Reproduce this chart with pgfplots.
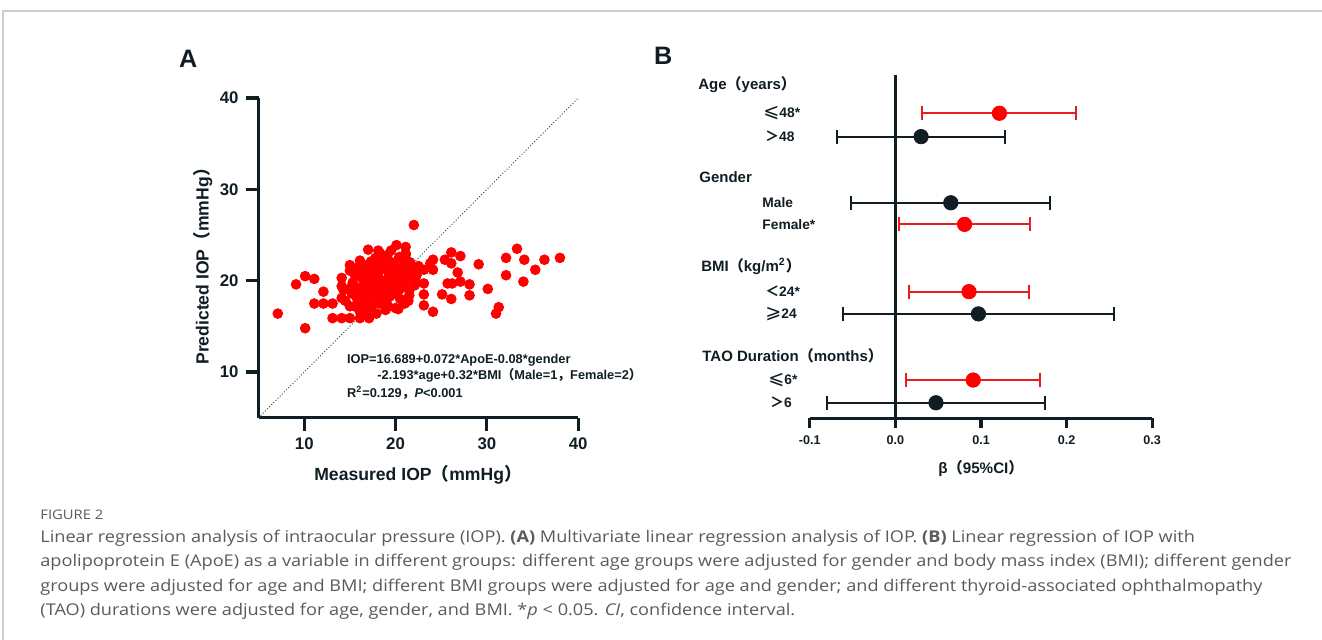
\documentclass[border=0pt]{standalone}
\usepackage{pgfplots}
\pgfplotsset{compat=1.18}
\usepackage{fontspec}
\setmainfont{Liberation Sans}
\newfontfamily\cjk{Noto Sans CJK SC}
\newfontfamily\dv{DejaVu Sans}
\newfontfamily\capfont[FakeStretch=1.12]{Open Sans}
\definecolor{dotred}{RGB}{255,0,0}
\definecolor{barred}{RGB}{232,30,30}
\definecolor{ink}{RGB}{16,30,36}
\definecolor{capgray}{RGB}{90,90,90}
\definecolor{framegray}{RGB}{205,205,205}
\newcommand{\fw}[1]{{\cjk #1}}
\newcommand{\sle}{{\dv\mdseries\fontsize{9.6}{8}\selectfont ⩽}}
\newcommand{\sge}{{\dv\mdseries\fontsize{9.6}{8}\selectfont ⩾}}

\begin{document}
\begin{tikzpicture}[x=0.5pt,y=0.5pt]
\path[use as bounding box] (0,0) rectangle (1322,640);
\draw[framegray, line width=0.6pt] (3,0) -- (3,629) -- (1322,629);

% ---------- panel A: predicted vs measured IOP
\begin{axis}[
    at={(129.3pt,111.15pt)}, anchor=south west,
    scale only axis, width=159.8pt, height=159.8pt,
    xmin=5, xmax=40, ymin=5, ymax=40,
    axis lines=left,
    axis line style={-, line width=1.6pt, ink},
    xtick={10,20,30,40}, ytick={10,20,30,40},
    tick style={line width=1.6pt, ink},
    major tick length=6.5pt, tick align=outside,
    tick label style={font=\fontsize{8.4}{10}\selectfont\bfseries, text=ink},
    /pgf/number format/assume math mode=true,
    clip=false
]
    \addplot[densely dotted, line width=0.5pt, black!75] coordinates {(5,5) (40,40)};
    \addplot[only marks, mark=*, mark size=2.45pt, color=dotred,
             mark options={draw=dotred, fill=dotred}] coordinates {
        (7.1,16.4) (10.1,14.8) (9.1,19.6) (10.1,20.5) (11.1,20.2) (12.1,18.8)
        (11.1,17.5) (12.1,17.5) (13.1,17.5) (13.1,15.9) (14.1,15.9) (15.0,15.9)
        (16.1,15.9) (16.1,16.6) (14.1,18.1) (14.1,19.4) (14.1,20.3) (15.0,21.7)
        (15.0,21.1) (15.0,17.2) (16.1,22.2) (17.0,23.4) (18.1,23.3) (19.1,22.8)
        (20.1,23.9) (21.1,23.7) (21.1,22.8) (18.1,21.9) (22.0,26.1) (21.1,23.0)
        (24.1,22.3) (23.8,21.9) (26.1,23.1) (27.1,22.7) (25.4,22.3) (26.1,21.9)
        (29.1,21.8) (26.8,20.9) (24.1,21.2) (23.1,21.2) (22.2,19.8) (23.1,19.7)
        (25.7,19.7) (26.2,19.7) (27.1,19.9) (28.1,19.6) (28.1,18.4) (26.1,18.0)
        (25.1,18.5) (23.1,18.5) (23.1,17.3) (24.1,16.6) (21.5,18.4) (30.1,19.1)
        (32.1,22.5) (33.3,23.5) (34.1,22.3) (36.3,22.3) (38.0,22.5) (35.3,21.2)
        (32.1,20.6) (34.0,19.9) (31.3,17.1) (31.0,16.4)
        (15.2,18.6) (15.3,19.8) (15.6,20.5) (15.8,18.0) (16.0,19.2) (16.2,20.9)
        (16.3,17.4) (16.5,18.6) (16.6,19.9) (16.8,21.5) (16.9,16.8) (17.0,18.0)
        (17.0,20.5) (17.2,19.3) (17.3,22.1) (17.4,17.3) (17.5,18.7) (17.6,21.0)
        (17.8,19.9) (17.9,16.4) (18.0,18.2) (18.1,20.5) (18.2,17.5) (18.4,19.2)
        (18.5,21.3) (18.6,22.6) (18.7,18.6) (18.8,20.0) (19.0,17.8) (19.0,21.2)
        (19.1,19.5) (19.3,20.6) (19.4,18.3) (19.6,22.0) (19.7,19.0) (19.8,20.9)
        (20.0,17.0) (20.0,18.6) (20.0,21.6) (20.1,20.1) (20.2,19.3) (20.4,22.6)
        (20.5,18.0) (20.6,20.7) (20.8,21.4) (21.0,19.6) (21.0,17.5) (21.2,20.3)
        (21.3,21.0) (21.5,18.9) (21.6,22.0) (21.8,20.2) (22.0,21.2) (22.1,19.5)
        (22.3,20.6) (22.5,21.6) (19.5,23.3) (18.3,23.0) (17.8,22.5) (16.1,18.3)
        (15.1,19.2) (14.3,19.0) (14.5,17.8) (15.5,17.2) (16.7,17.0) (18.9,16.8)
        (19.2,17.2) (20.3,16.9) (21.4,17.8) (17.1,15.9) (16.6,21.2)
        (16.4,20.2) (17.7,20.2) (18.9,21.7) (19.9,20.5) (20.7,19.9) (19.5,19.8)
        (18.3,20.0) (17.4,19.6) (16.9,18.9) (18.0,19.1) (19.2,18.9) (20.4,19.0)
        (21.9,20.9) (20.9,22.3) (17.1,21.8) (15.9,21.5) (16.3,16.4)
    };
\end{axis}

\node[anchor=west, font=\fontsize{12.6}{14}\selectfont\bfseries, text=ink] at (172,581) {A};
\node[font=\fontsize{8.8}{11}\selectfont\bfseries, text=ink] at (418,165) {Measured IOP\fw{（}mmHg\fw{）}};
\node[rotate=90, font=\fontsize{8.8}{11}\selectfont\bfseries, text=ink] at (203,378) {Predicted IOP\fw{（}mmHg\fw{）}};
\begin{scope}[every node/.style={anchor=west, inner sep=0pt, font=\fontsize{6.4}{8}\selectfont\bfseries, text=ink}]
\node at (346.7,280) {IOP=16.689+0.072*ApoE-0.08*gender};
\node at (377,265) {-2.193*age+0.32*BMI\fw{（}Male=1\fw{，}Female=2\fw{）}};
\node at (346.7,247) {R\textsuperscript{2}=0.129\fw{，}\textit{P}<0.001};
\end{scope}

% ---------- panel B: beta with 95% CI by group
\begin{axis}[
    at={(404.9pt,110.85pt)}, anchor=south west,
    scale only axis, width=171.2pt, height=171.65pt,
    xmin=-0.1, xmax=0.3, ymin=0, ymax=15.26,
    axis x line=bottom, axis y line=none,
    axis line style={-, line width=1.6pt, ink},
    xtick={-0.1,0,0.1,0.2,0.3}, xticklabels={-0.1,0.0,0.1,0.2,0.3},
    tick style={line width=1.6pt, ink},
    major tick length=5pt, tick align=outside,
    tick label style={font=\fontsize{6.3}{8}\selectfont\bfseries, text=ink},
    clip=false
]
    \addplot[ink, line width=1.3pt] coordinates {(0,0) (0,15.26)};
    % CI lines: red = significant groups
    \addplot[barred, line width=1pt, mark=|, mark size=3.5pt, mark options={line width=1pt}] coordinates {(0.0305,13.56) (0.211,13.56)};
    \addplot[ink, line width=1pt, mark=|, mark size=3.5pt, mark options={line width=1pt}] coordinates {(-0.068,12.52) (0.1275,12.52)};
    \addplot[ink, line width=1pt, mark=|, mark size=3.5pt, mark options={line width=1pt}] coordinates {(-0.0523,9.58) (0.1806,9.58)};
    \addplot[barred, line width=1pt, mark=|, mark size=3.5pt, mark options={line width=1pt}] coordinates {(0.0044,8.62) (0.157,8.62)};
    \addplot[barred, line width=1pt, mark=|, mark size=3.5pt, mark options={line width=1pt}] coordinates {(0.016,5.63) (0.1556,5.63)};
    \addplot[ink, line width=1pt, mark=|, mark size=3.5pt, mark options={line width=1pt}] coordinates {(-0.0608,4.64) (0.255,4.64)};
    \addplot[barred, line width=1pt, mark=|, mark size=3.5pt, mark options={line width=1pt}] coordinates {(0.012,1.70) (0.1685,1.70)};
    \addplot[ink, line width=1pt, mark=|, mark size=3.5pt, mark options={line width=1pt}] coordinates {(-0.0805,0.69) (0.175,0.69)};
    % point estimates
    \addplot[only marks, mark=*, mark size=3.6pt, color=dotred, mark options={fill=dotred}]
        coordinates {(0.1215,13.56) (0.0808,8.62) (0.086,5.63) (0.0909,1.70)};
    \addplot[only marks, mark=*, mark size=3.6pt, color=ink, mark options={fill=ink}]
        coordinates {(0.030,12.52) (0.0647,9.58) (0.097,4.64) (0.0474,0.69)};
\end{axis}

\node[anchor=west, font=\fontsize{12.6}{14}\selectfont\bfseries, text=ink] at (647,584) {B};
\node[font=\fontsize{7.6}{9}\selectfont\bfseries, text=ink] at (981,171) {β\fw{（}95\%CI\fw{）}};
\begin{scope}[every node/.style={anchor=west, inner sep=0pt, font=\fontsize{7.5}{9}\selectfont\bfseries, text=ink}]
\node at (698,555.7) {Age\fw{（}years\fw{）}};
\node at (699,462.7) {Gender};
\node at (701,373.3) {BMI\fw{（}kg/m\textsuperscript{2}\fw{）}};
\node at (702,284) {TAO Duration\fw{（}months\fw{）}};
\end{scope}
\begin{scope}[every node/.style={anchor=west, inner sep=0pt, font=\fontsize{6.9}{8}\selectfont\bfseries, text=ink}]
\node at (763,526.7) {\sle48*};
\node at (765,503.3) {\fw{＞}48};
\node at (762,437.3) {Male};
\node at (762,415.7) {Female*};
\node at (765,348.3) {\fw{＜}24*};
\node at (765,326) {\sge24};
\node at (768,260) {\sle6*};
\node at (770,237.3) {\fw{＞}6};
\end{scope}

% ---------- caption
\begin{scope}[every node/.style={anchor=west, inner sep=0pt, text=capgray}]
\node[font=\capfont\fontsize{6.6}{8}\selectfont] at (40,125) {FIGURE 2};
\node[font=\capfont\fontsize{8.1}{9}\selectfont] at (40,102) {Linear regression analysis of intraocular pressure (IOP). \textbf{(A)} Multivariate linear regression analysis of IOP. \textbf{(B)} Linear regression of IOP with};
\node[font=\capfont\fontsize{8.1}{9}\selectfont] at (40,78) {apolipoprotein E (ApoE) as a variable in different groups: different age groups were adjusted for gender and body mass index (BMI); different gender};
\node[font=\capfont\fontsize{8.1}{9}\selectfont] at (40,53) {groups were adjusted for age and BMI; different BMI groups were adjusted for age and gender; and different thyroid-associated ophthalmopathy};
\node[font=\capfont\fontsize{8.1}{9}\selectfont] at (40,29) {(TAO) durations were adjusted for age, gender, and BMI. *\textit{p} < 0.05. \textit{CI}, confidence interval.};
\end{scope}
\end{tikzpicture}
\end{document}
